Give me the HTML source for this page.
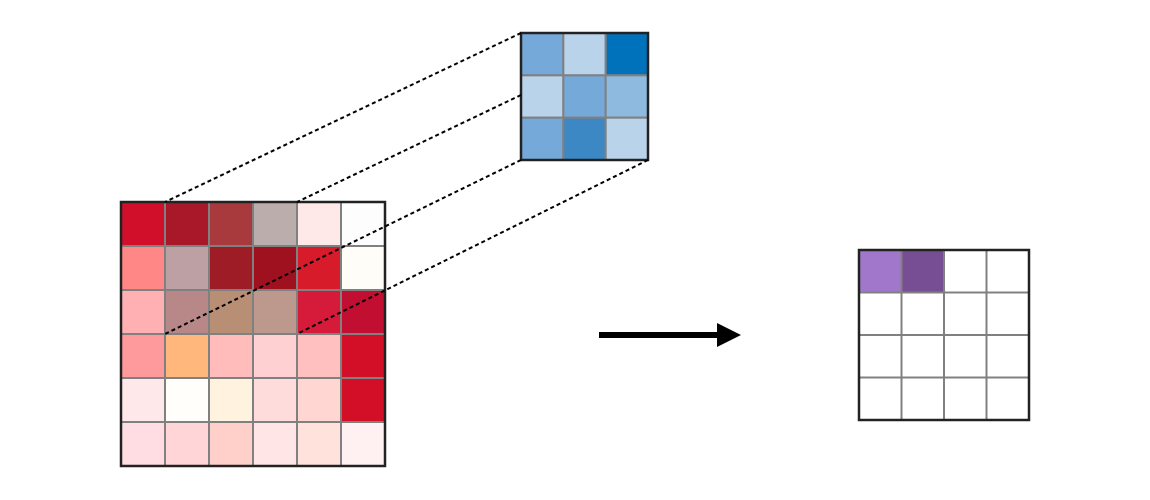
<!DOCTYPE html>
<html><head><meta charset="utf-8"><style>
html,body{margin:0;padding:0;background:#fff;}
svg{display:block;font-family:"Liberation Sans",sans-serif;}
</style></head><body>
<svg id="chart" width="1150" height="500" viewBox="0 0 1150 500" xmlns="http://www.w3.org/2000/svg">
<g id="input"></g>
<g id="kernel"></g>
<g id="output"></g>
<g id="lines"></g>
<g>
<rect x="599" y="332" width="120" height="6" fill="#000"/>
<polygon points="717,323 741,335 717,347" fill="#000"/>
</g>
</svg>
<script>
const inputColors = [
 ["#d20f2a","#a81828","#a83a3e","#bcadad","#ffe8e8","#fdfdfd"],
 ["#ff8886","#bda0a3","#9e1c25","#a0111f","#d81b2a","#fffdf7"],
 ["#ffb0b2","#b88888","#b88f74","#bc998c","#d61a3a","#c20f31"],
 ["#ff9a9c","#ffb77b","#ffbcbb","#ffd0d1","#ffc0bf","#d30f28"],
 ["#ffe8ea","#fffefa","#fff3df","#ffdcdc","#ffd6d2","#d30f27"],
 ["#ffdde3","#ffd5d7","#ffcfca","#ffe5e5","#ffe2dc","#fff0f2"]
];
const kernelColors = [
 ["#75a9d9","#b8d3ea","#0072bb"],
 ["#b8d3ea","#75a9d9","#8dbade"],
 ["#75a9d9","#3b88c4","#b8d3ea"]
];
const outputColors = [
 ["#a077cb","#774e93","#ffffff","#ffffff"],
 ["#ffffff","#ffffff","#ffffff","#ffffff"],
 ["#ffffff","#ffffff","#ffffff","#ffffff"],
 ["#ffffff","#ffffff","#ffffff","#ffffff"]
];
const NS="http://www.w3.org/2000/svg";
function grid(gid,colors,x0,y0,size,name){
  const g=document.getElementById(gid);
  const n=colors.length, c=size/n;
  colors.forEach((row,r)=>row.forEach((col,k)=>{
    const el=document.createElementNS(NS,"rect");
    el.setAttribute("x",x0+k*c);el.setAttribute("y",y0+r*c);
    el.setAttribute("width",c);el.setAttribute("height",c);
    el.setAttribute("fill",col);el.setAttribute("stroke","#808080");el.setAttribute("stroke-width","2");
    
    
    g.appendChild(el);
  }));
  const b=document.createElementNS(NS,"rect");
  b.setAttribute("x",x0);b.setAttribute("y",y0);b.setAttribute("width",size);b.setAttribute("height",size);
  b.setAttribute("fill","none");b.setAttribute("stroke","#222");b.setAttribute("stroke-width","2.5");
  
  
  g.appendChild(b);
}
grid("input",inputColors,121,202,264,"input");
grid("kernel",kernelColors,521,33,127,"kernel");
grid("output",outputColors,859,250,170,"output");
const segs=[[521,33,165,202],[521,95,297,202],[521,160,165,334],[648,160,297,334]];
const lg=document.getElementById("lines");
segs.forEach(s=>{
  const l=document.createElementNS(NS,"line");
  l.setAttribute("x1",s[0]);l.setAttribute("y1",s[1]);l.setAttribute("x2",s[2]);l.setAttribute("y2",s[3]);
  l.setAttribute("stroke","#000");l.setAttribute("stroke-width","2");l.setAttribute("stroke-dasharray","4,3");
  
  
  lg.appendChild(l);
});
</script>
</body></html>
